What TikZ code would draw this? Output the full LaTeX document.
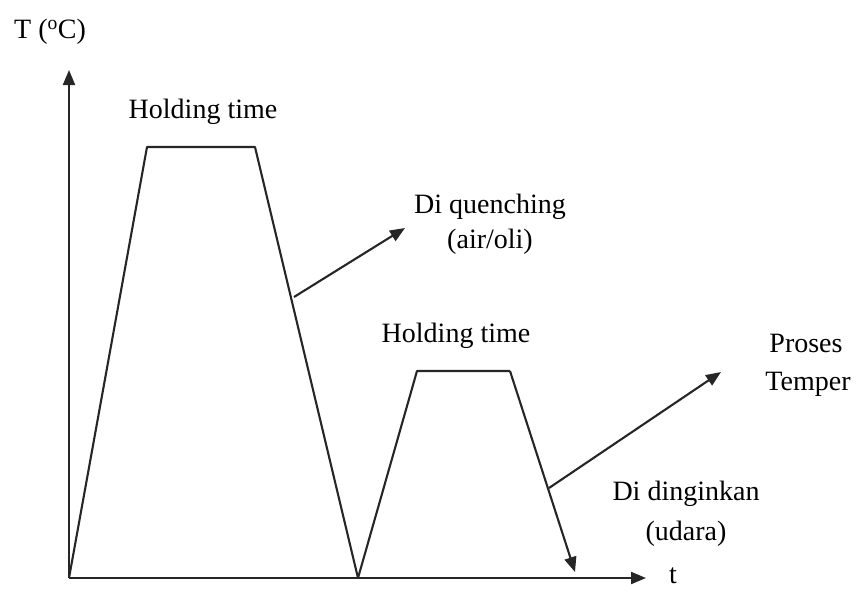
\documentclass[tikz,border=0pt]{standalone}
\usepackage{fontspec}
\setmainfont{Liberation Serif}
\usetikzlibrary{arrows.meta}
\begin{document}
\begin{tikzpicture}[x=1pt,y=-1pt,
  ln/.style={line width=2.1pt,draw=black!85},
  arr/.style={ln,-{Triangle[length=15pt,width=12pt]}},
  lbl/.style={font=\fontsize{28}{36}\selectfont,inner sep=0pt,align=center}]
\useasboundingbox (0,0) rectangle (856,592);
% axes
\coordinate (O) at (69,578);
\coordinate (Ytop) at (69,70);
\coordinate (Xend) at (646,578);
\draw[arr] (O) -- (Ytop);
\draw[arr] (O) -- (Xend);
\node[lbl] (tl) at (673,576) {t};
\node[lbl,anchor=west] (Tl) at (14,32) {T (\textsuperscript{o}C)};
% first cycle
\coordinate (a1) at (147,147);
\coordinate (a2) at (255,147);
\coordinate (m) at (358,578);
\draw[ln,line join=round] (O) -- (a1) -- (a2) -- (m);
\node[lbl] (h1) at (203,112) {Holding time};
% second cycle
\coordinate (b1) at (417,371);
\coordinate (b2) at (510,371);
\coordinate (bend) at (575,572);
\draw[ln,line join=round] (m) -- (b1) -- (b2);
\draw[arr] (b2) -- (bend);
\node[lbl] (h2) at (456,336) {Holding time};
% quench arrow
\coordinate (q0) at (294,297);
\coordinate (q1) at (405,228);
\draw[arr] (q0) -- (q1);
\node[lbl] (dq) at (490,207) {Di quenching};
\node[lbl] (ao) at (490,242) {(air/oli)};
% temper arrow
\coordinate (t0) at (549,488);
\coordinate (t1) at (721,372);
\draw[arr] (t0) -- (t1);
\node[lbl] (pr) at (806,343) {Proses};
\node[lbl] (tm) at (808,384) {Temper};
\node[lbl] (dd) at (686,494) {Di dinginkan};
\node[lbl] (ud) at (686,534) {(udara)};
\end{tikzpicture}
\end{document}
